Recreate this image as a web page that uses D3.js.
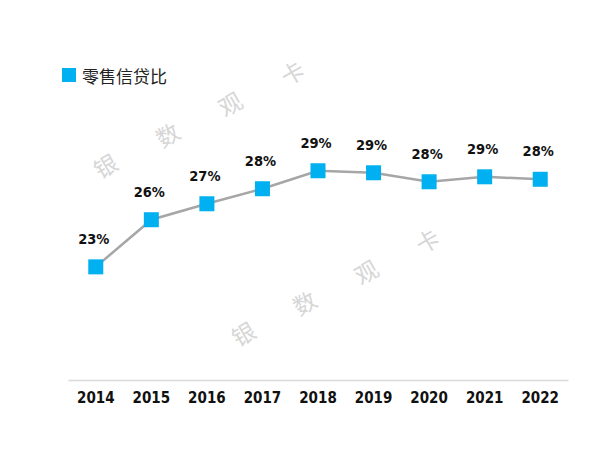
<!DOCTYPE html>
<html><head><meta charset="utf-8">
<script src="https://cdn.jsdelivr.net/npm/d3@7/dist/d3.min.js"></script>
<style>body{margin:0;background:#fff}</style>
</head><body>
<svg id="c" width="600" height="450"></svg>
<script>
const years = ["2014","2015","2016","2017","2018","2019","2020","2021","2022"];
const ratio = [23.3, 26.34, 27.37, 28.34, 29.5, 29.37, 28.79, 29.11, 28.95];
const seriesName = "零售信贷比";
const watermarkChars = ["银","数","观","卡"];

const svg = d3.select("#c");
const x = d3.scaleBand().domain(years).range([68, 568]);
const y = d3.scaleLinear().domain([16, 36]).range([380, 70]);
const cx = d => x(d) + x.bandwidth()/2;
const numFont = "'DejaVu Sans Condensed', 'DejaVu Sans', sans-serif";

// watermark
const wm = svg.append("g");
const rows = [[105,165,292,72],[243,333,427,240]];
rows.forEach(r => {
  watermarkChars.forEach((ch,i) => {
    const px = r[0] + (r[2]-r[0])*i/3, py = r[1] + (r[3]-r[1])*i/3;
    wm.append("text").attr("x",px).attr("y",py)
      .attr("transform",`rotate(-30,${px},${py})`)
      .attr("text-anchor","middle").attr("dominant-baseline","central")
      .attr("font-family","Noto Sans CJK SC").attr("font-size",23)
      .attr("fill","#d6d6d6").text(ch);
  });
});

// axis
const ax = svg.append("g").attr("transform","translate(0,380)")
  .call(d3.axisBottom(x).tickSize(0).tickPadding(12));
ax.select(".domain").attr("stroke","#d9d9d9").attr("stroke-width",1.5);
ax.selectAll("text").attr("font-family",numFont)
  .attr("font-weight","bold").attr("font-size",15).attr("fill","#111");

// line
const data = years.map((yr,i)=>({yr, v: ratio[i]}));
svg.append("path").datum(data)
  .attr("d", d3.line().x(d=>cx(d.yr)).y(d=>y(d.v)))
  .attr("fill","none").attr("stroke","#a6a6a6").attr("stroke-width",2.5);

// markers
const s = 15;
svg.selectAll("rect.m").data(data).enter().append("rect")
  .attr("x", d=>cx(d.yr)-s/2).attr("y", d=>y(d.v)-s/2)
  .attr("width", s).attr("height", s).attr("fill","#00b0f0");

// labels
svg.selectAll("text.l").data(data).enter().append("text")
  .attr("x", d=>cx(d.yr)-2).attr("y", d=>y(d.v)-23)
  .attr("text-anchor","middle")
  .attr("font-family",numFont)
  .attr("font-weight","bold").attr("font-size",14.5).attr("fill","#111")
  .text(d=>Math.floor(d.v)+"%");

// legend
svg.append("rect").attr("x",62).attr("y",68).attr("width",14).attr("height",14).attr("fill","#00b0f0");
svg.append("text").attr("x",82).attr("y",75).attr("dominant-baseline","central")
  .attr("font-family","Noto Sans CJK SC").attr("font-size",17).attr("fill","#222").text(seriesName);
</script>
</body></html>
